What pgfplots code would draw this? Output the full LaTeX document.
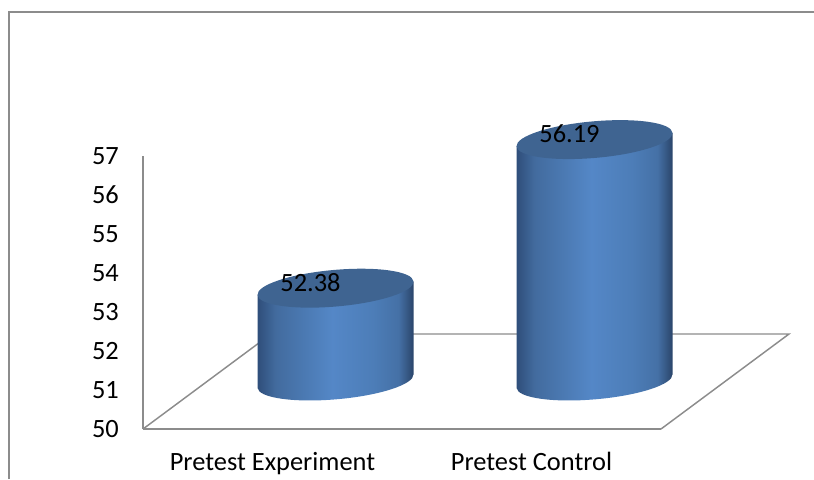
\documentclass[border=0pt]{standalone}
\usepackage{pgfplots}
\pgfplotsset{compat=1.18}
\usepackage{fontspec}
\setmainfont{Carlito}
\definecolor{linegray}{HTML}{8C8C8C}
\definecolor{cyltop}{HTML}{3F6491}
\pgfdeclarehorizontalshading{cylside}{100bp}{
  rgb(0bp)=(0.18,0.30,0.47);
  rgb(25bp)=(0.18,0.30,0.47);
  rgb(31bp)=(0.26,0.42,0.62);
  rgb(39bp)=(0.29,0.47,0.69);
  rgb(49bp)=(0.33,0.53,0.78);
  rgb(62bp)=(0.30,0.49,0.72);
  rgb(70bp)=(0.27,0.44,0.65);
  rgb(75bp)=(0.16,0.26,0.40);
  rgb(100bp)=(0.16,0.26,0.40)}
% cylinder drawn as a plot mark, height comes from the plotted value
% (63,48) is the depth offset from the front edge to the middle of the floor
\pgfdeclareplotmark{cyl}{%
    \pgfmathsetmacro{\cylh}{(\rawy-50)*39}%
    \begin{scope}[x=0.75pt,y=0.75pt]
        \shade[draw=none,shading=cylside]
            (-15,41.5) -- (-15,41.5-\cylh) -- (141,54.5-\cylh) -- (141,54.5) -- cycle
            (63,48-\cylh) ellipse[x radius=78.3,y radius=18.3,rotate=5];
        \fill[draw=none,cyltop] (63,48) ellipse[x radius=78.3,y radius=18.3,rotate=5];
    \end{scope}
}
\begin{document}
\begin{tikzpicture}
\useasboundingbox (0,0) rectangle (610.5pt,-359.25pt);
\begin{axis}[
    at={(107.25pt,-321.75pt)}, anchor=south west,
    scale only axis, width=388.5pt, height=204.75pt,
    xmin=-0.5, xmax=1.5, ymin=50, ymax=57,
    xtick={0,1}, xticklabels={Pretest Experiment,Pretest Control},
    ytick={50,51,...,57},
    axis lines=left,
    axis line style={-,draw=linegray,line width=1.1pt},
    tick style={draw=none},
    tick label style={font=\fontsize{19.8}{22}\selectfont},
    /pgf/number format/assume math mode=true,
    yticklabel style={xshift=-12.5pt},
    xticklabel style={yshift=-12pt},
    clip=false,
]
\draw[linegray,line width=1.1pt] (rel axis cs:0,0) -- (rel axis cs:0.2471,0.348)
    -- (rel axis cs:1.2471,0.348) -- (rel axis cs:1,0);
\addplot[
    scatter, only marks, mark=cyl,
    point meta=y,
    visualization depends on={rawy \as \rawy},
    scatter/@pre marker code/.code={},
    scatter/@post marker code/.code={},
    nodes near coords={\pgfmathprintnumber[fixed,fixed zerofill,precision=2,assume math mode=true]{\pgfplotspointmeta}},
    nodes near coords align={anchor=center},
    every node near coord/.append style={font=\fontsize{19.8}{22}\selectfont,text=black,xshift=28.5pt,yshift=40.5pt},
] coordinates {
    (0,52.38)
    (1,56.19)
};
\end{axis}
\draw[linegray,line width=1.3pt] (6.9pt,-359.25pt) -- (6.9pt,-9pt) -- (610.5pt,-9pt);
\end{tikzpicture}
\end{document}
